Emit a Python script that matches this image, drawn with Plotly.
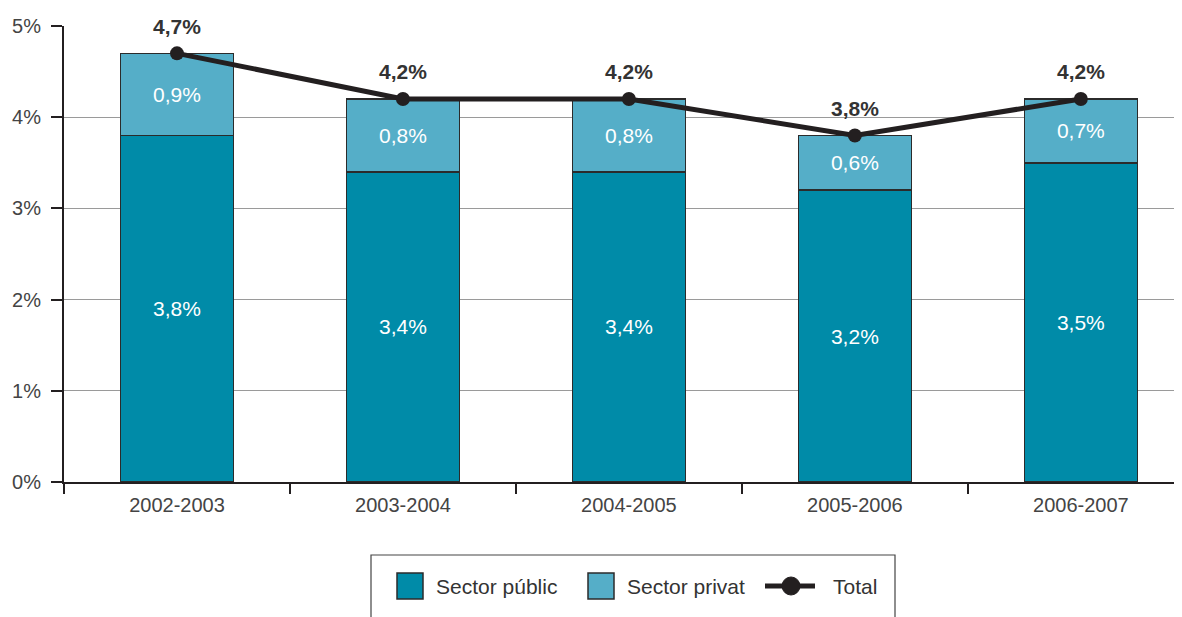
import plotly.graph_objects as go

categories = ["2002-2003", "2003-2004", "2004-2005", "2005-2006", "2006-2007"]
sector_public = [3.8, 3.4, 3.4, 3.2, 3.5]
sector_privat = [0.9, 0.8, 0.8, 0.6, 0.7]
total = [4.7, 4.2, 4.2, 3.8, 4.2]
y_ticks = [0, 1, 2, 3, 4, 5]
legend_labels = ["Sector públic", "Sector privat", "Total"]


def fmt(v):
    return f"{v:.1f}%".replace(".", ",")


FONT = "Liberation Sans, Arial, sans-serif"
C_PUB = "#008BA8"
C_PRIV = "#55AEC8"
C_LINE = "#231F20"
C_EDGE = "#2b2b2b"

fig = go.Figure()
fig.add_trace(go.Bar(
    x=categories, y=sector_public, name=legend_labels[0],
    marker=dict(color=C_PUB, line=dict(color=C_EDGE, width=1.5)),
    width=0.5, text=[fmt(v) for v in sector_public],
    textposition="inside", insidetextanchor="middle",
    textfont=dict(color="white", size=21, family=FONT),
    hoverinfo="skip",
))
fig.add_trace(go.Bar(
    x=categories, y=sector_privat, name=legend_labels[1],
    marker=dict(color=C_PRIV, line=dict(color=C_EDGE, width=1.5)),
    width=0.5, text=[fmt(v) for v in sector_privat],
    textposition="inside", insidetextanchor="middle",
    textfont=dict(color="white", size=21, family=FONT),
    hoverinfo="skip",
))
fig.add_trace(go.Scatter(
    x=categories, y=total, name=legend_labels[2], mode="lines+markers",
    line=dict(color=C_LINE, width=5),
    marker=dict(color=C_LINE, size=14),
))

for c, v in zip(categories, total):
    fig.add_annotation(x=c, y=v, text=f"<b>{fmt(v)}</b>", showarrow=False,
                       yshift=27, font=dict(size=21, color="#333333", family=FONT))

# --- legend drawn in paper coordinates (screen pixel helpers) ---
PL, PR, PT, PB = 64, 1178, 26, 482


def px(X):
    return (X - PL) / (PR - PL)


def py(Y):
    return (PB - Y) / (PB - PT)


shapes = []
shapes.append(dict(type="rect", xref="paper", yref="paper",
                   x0=px(371), x1=px(895), y0=py(555), y1=py(640),
                   line=dict(color="#444444", width=1.2), fillcolor="white"))
shapes.append(dict(type="rect", xref="paper", yref="paper",
                   x0=px(397), x1=px(423), y0=py(573), y1=py(599),
                   line=dict(color=C_EDGE, width=1.5), fillcolor=C_PUB))
shapes.append(dict(type="rect", xref="paper", yref="paper",
                   x0=px(588), x1=px(614), y0=py(573), y1=py(599),
                   line=dict(color=C_EDGE, width=1.5), fillcolor=C_PRIV))
shapes.append(dict(type="line", xref="paper", yref="paper",
                   x0=px(765), x1=px(815), y0=py(586), y1=py(586),
                   line=dict(color=C_LINE, width=5)))
shapes.append(dict(type="circle", xref="paper", yref="paper",
                   x0=px(782), x1=px(800), y0=py(577), y1=py(595),
                   line=dict(color=C_LINE, width=1), fillcolor=C_LINE))
fig.update_layout(shapes=shapes)

for X, lab in zip([434, 625, 831], legend_labels):
    fig.add_annotation(xref="paper", yref="paper", x=px(X), y=py(586),
                       xanchor="left", yanchor="middle", text=lab, showarrow=False,
                       font=dict(size=21, color="#333333", family=FONT))

fig.update_layout(
    barmode="stack",
    width=1182, height=617,
    margin=dict(l=56, r=12, t=18, b=143),
    plot_bgcolor="white", paper_bgcolor="white",
    font=dict(family=FONT, color="#444444"),
    showlegend=False,
)
fig.update_xaxes(
    type="category", range=[-0.5, 4.43],
    showline=True, linecolor="#231F20", linewidth=2,
    ticks="outside", tickson="boundaries", ticklen=10, tickwidth=2, tickcolor="#231F20",
    tickfont=dict(size=20, color="#444444"), ticklabelstandoff=4,
    showgrid=False, automargin=False,
)
fig.update_yaxes(
    range=[0, 5], tickvals=y_ticks, ticktext=[f"{v}%" for v in y_ticks],
    showline=True, linecolor="#231F20", linewidth=2,
    ticks="outside", ticklen=11, tickwidth=2, tickcolor="#231F20",
    tickfont=dict(size=20, color="#444444"), ticklabelstandoff=6,
    showgrid=True, gridcolor="#9a9a9a", gridwidth=1,
    zeroline=False, automargin=False,
)

fig.write_html("out.html")
